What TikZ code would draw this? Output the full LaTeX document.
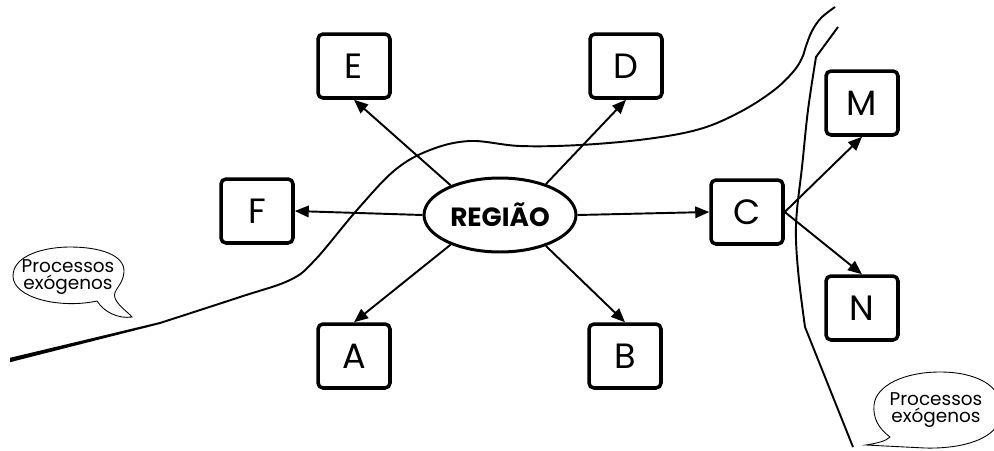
\documentclass[tikz,border=0pt]{standalone}
\usepackage{fontspec}
\setmainfont{Poppins}
\usetikzlibrary{arrows.meta,shapes.geometric}

\tikzset{
    caixa/.style={draw,line width=2pt,rounded corners=0.1cm,inner sep=0pt,
        minimum width=1.44cm,minimum height=1.28cm,font=\fontsize{20}{22}\selectfont},
    regiao/.style={draw,ellipse,line width=1.7pt,inner sep=0pt,
        minimum width=3.04cm,minimum height=1.48cm,font=\bfseries\fontsize{15}{17}\selectfont},
    seta/.style={line width=1.1pt,-{Triangle[length=0.28cm,width=0.23cm]}},
    limite/.style={line width=1.1pt},
    balao/.style={line width=0.5pt,fill=white},
    texto/.style={align=center,inner sep=0pt,font=\fontsize{10.5}{10}\selectfont}
}

\begin{document}
\begin{tikzpicture}[x=0.02cm,y=-0.02cm]
                \useasboundingbox (0,0) rectangle (994,450);
                \clip (0,0) rectangle (994,450);

                \fill (10,357.8) -- (160,322) -- (160,324) -- (10,362.2) -- cycle;
                \draw[limite] plot[smooth,tension=0.6] coordinates {(160,323) (240,297) (290,280) (315,260)
                    (357,210) (395,170) (430,150) (470,141) (520,146) (580,145) (647,139) (700,129)
                    (740,112) (773,91) (793,72) (802,58) (806,46) (812,31) (821,18) (835,7)};
                \draw[limite] (838,27) -- plot[smooth,tension=0.6] coordinates {(816,57) (808,110)
                    (802,167) (797,210) (796,240) (799,280) (805,327)} -- (853,447);

                \node[regiao] (reg) at (500,215) {REGIÃO};
                \node[caixa] (E) at (354,66) {E};
                \node[caixa] (D) at (626,66) {D};
                \node[caixa] (F) at (257,211) {F};
                \node[caixa] (C) at (747,212) {C};
                \node[caixa] (A) at (354,356) {A};
                \node[caixa] (B) at (625,356) {B};
                \node[caixa] (M) at (862,103) {M};
                \node[caixa] (N) at (862,308) {N};

                \draw[seta] (reg.149) -- (E.south);
                \draw[seta] (reg.34) -- (D.south);
                \draw[seta] (reg.180) -- (F.east);
                \draw[seta] (reg.0) -- (C.west);
                \draw[seta] (reg.211) -- (A.north);
                \draw[seta] (reg.326) -- (B.north);
                \draw[seta] (C.east) -- (M.south);
                \draw[seta] (C.east) -- (N.north);

                \draw[balao] (97,301) .. controls (60,309) and (13,298) .. (13,276)
                    .. controls (13,255) and (45,247) .. (70,247)
                    .. controls (100,247) and (125,255) .. (124,272)
                    .. controls (123,286) and (112,290) .. (115,298)
                    .. controls (118,306) and (128,312) .. (132,317)
                    .. controls (118,319) and (104,312) .. (97,301) -- cycle;
                \node[texto] (exoL) at (68,277) {Processos\\exógenos};

                \draw[balao] (890,437) .. controls (878,428) and (873,418) .. (874,405)
                    .. controls (876,385) and (905,372) .. (940,372)
                    .. controls (975,372) and (1002,385) .. (1002,410)
                    .. controls (1002,440) and (960,449) .. (925,448)
                    .. controls (905,447) and (885,446) .. (866,445)
                    .. controls (878,443) and (886,441) .. (890,437) -- cycle;
                \node[texto] (exoR) at (936,410) {Processos\\exógenos};

            \end{tikzpicture}
\end{document}
